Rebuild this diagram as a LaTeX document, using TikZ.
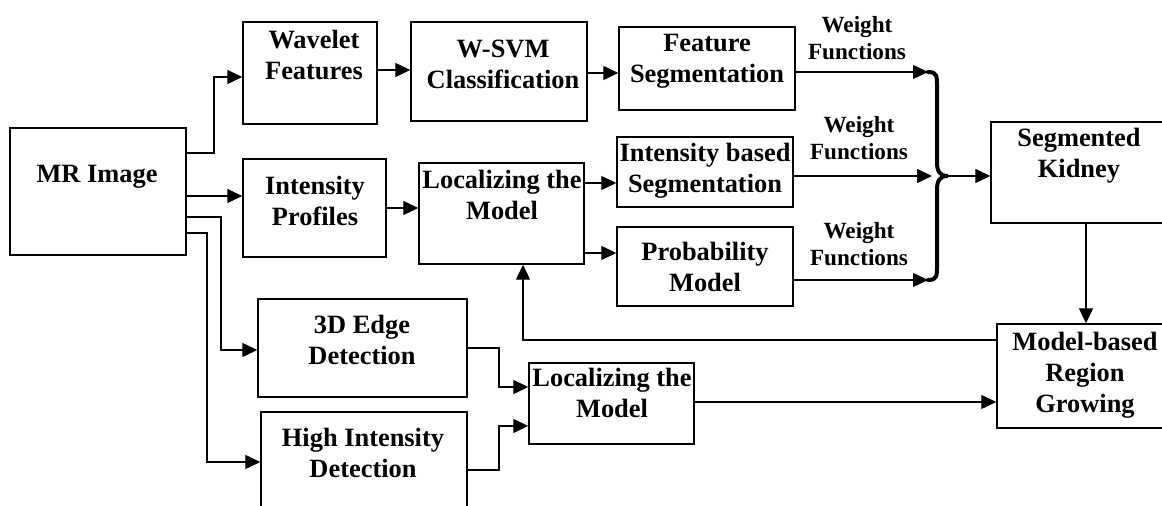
\documentclass[tikz,border=0pt]{standalone}
\usepackage{fontspec}
\setmainfont{Liberation Serif}
\usetikzlibrary{arrows.meta,fit}
\begin{document}
\begin{tikzpicture}[x=0.5pt,y=-0.5pt,
  box/.style={draw,line width=0.7pt,inner sep=0pt},
  lbl/.style={font=\fontsize{13.2}{15.5}\selectfont\bfseries,align=center,anchor=base,inner sep=0pt},
  wlbl/.style={font=\fontsize{11.6}{13.8}\selectfont\bfseries,align=center,anchor=base,inner sep=0pt},
  arr/.style={line width=0.65pt,-{Triangle[length=7.5pt,width=7pt]}},
  ln/.style={line width=0.65pt},
  bracestyle/.style={line width=2pt,line cap=round}]
\clip (0,0) rectangle (1162,506);
% boxes
\node[box,fit={(10,128)(186,255)}] (mr) {};
\node[box,fit={(243,22)(377,124)}] (wf) {};
\node[box,fit={(411,22)(587,121)}] (ws) {};
\node[box,fit={(619,27)(795,110)}] (fs) {};
\node[box,fit={(243,159)(386,257)}] (ip) {};
\node[box,fit={(419,163)(584,264)}] (lm1) {};
\node[box,fit={(617,137)(793,207)}] (ib) {};
\node[box,fit={(617,227)(793,306)}] (pm) {};
\node[box,fit={(991,122)(1181,223)}] (sk) {};
\node[box,fit={(258,299)(467,397)}] (ed) {};
\node[box,fit={(261,412)(467,540)}] (hi) {};
\node[box,fit={(529,363)(694,444)}] (lm2) {};
\node[box,fit={(997,324)(1175,428)}] (mb) {};
% texts (anchor = baseline of last line)
\node[lbl] (t-mr) at (97,183) {MR Image};
\node[lbl] (t-wf) at (314,80) {Wavelet\\Features};
\node[lbl] (t-ws) at (503,89) {W-SVM\\Classification};
\node[lbl] (t-fs) at (707,83) {Feature\\Segmentation};
\node[lbl] (t-ip) at (315,226) {Intensity\\Profiles};
\node[lbl] (t-lm1) at (502,220) {Localizing the\\Model};
\node[lbl] (t-ib) at (705,193) {Intensity based\\Segmentation};
\node[lbl] (t-pm) at (705,292) {Probability\\Model};
\node[lbl] (t-sk) at (1079,178) {Segmented\\Kidney};
\node[lbl] (t-ed) at (362,365) {3D Edge\\Detection};
\node[lbl] (t-hi) at (363,478) {High Intensity\\Detection};
\node[lbl] (t-lm2) at (612,418) {Localizing the\\Model};
\node[lbl] (t-mb) at (1085,413) {Model-based\\Region\\Growing};
\node[wlbl] (w1) at (857,60) {Weight\\Functions};
\node[wlbl] (w2) at (859,160) {Weight\\Functions};
\node[wlbl] (w3) at (859,266) {Weight\\Functions};
% brace
\coordinate (b1) at (928,72);
\coordinate (b2) at (932,176);
\coordinate (b3) at (928,280);
\coordinate (bt) at (948,176);
\draw[bracestyle] (928,72) .. controls (937,72) and (937,76) .. (937,86) -- (937,162)
  .. controls (937,172) and (940,176) .. (bt)
  .. controls (940,176) and (937,180) .. (937,190) -- (937,266)
  .. controls (937,276) and (937,280) .. (928,280);
% connectors
\draw[arr] (mr.east |- 0,153) -- (214,153) |- (wf.west |- 0,77);
\draw[arr] (mr.east |- 0,196) -- (ip.west |- 0,196);
\draw[arr] (mr.east |- 0,217) -- (221,217) |- (ed.west |- 0,350);
\draw[arr] (mr.east |- 0,233) -- (207,233) |- (hi.west |- 0,462);
\draw[arr] (wf.east |- 0,70) -- (ws.west |- 0,70);
\draw[arr] (ws.east |- 0,73) -- (fs.west |- 0,73);
\draw[arr] (ip.east |- 0,208) -- (lm1.west |- 0,208);
\draw[arr] (lm1.east |- 0,183) -- (ib.west |- 0,183);
\draw[arr] (lm1.east |- 0,253) -- (pm.west |- 0,253);
\draw[arr] (fs.east |- b1) -- (b1);
\draw[arr] (ib.east |- b2) -- (b2);
\draw[arr] (pm.east |- b3) -- (b3);
\draw[arr] (bt) -- (sk.west |- bt);
\draw[arr] (sk.south) -- (mb.north);
\draw[arr] (mb.west |- 0,340) -| (lm1.south -| 523,0);
\draw[arr] (ed.east |- 0,348) -- (499,348) |- (lm2.west |- 0,387);
\draw[arr] (hi.east |- 0,470) -- (499,470) |- (lm2.west |- 0,426);
\draw[arr] (lm2.east |- 0,402) -- (mb.west |- 0,402);
\end{tikzpicture}
\end{document}
